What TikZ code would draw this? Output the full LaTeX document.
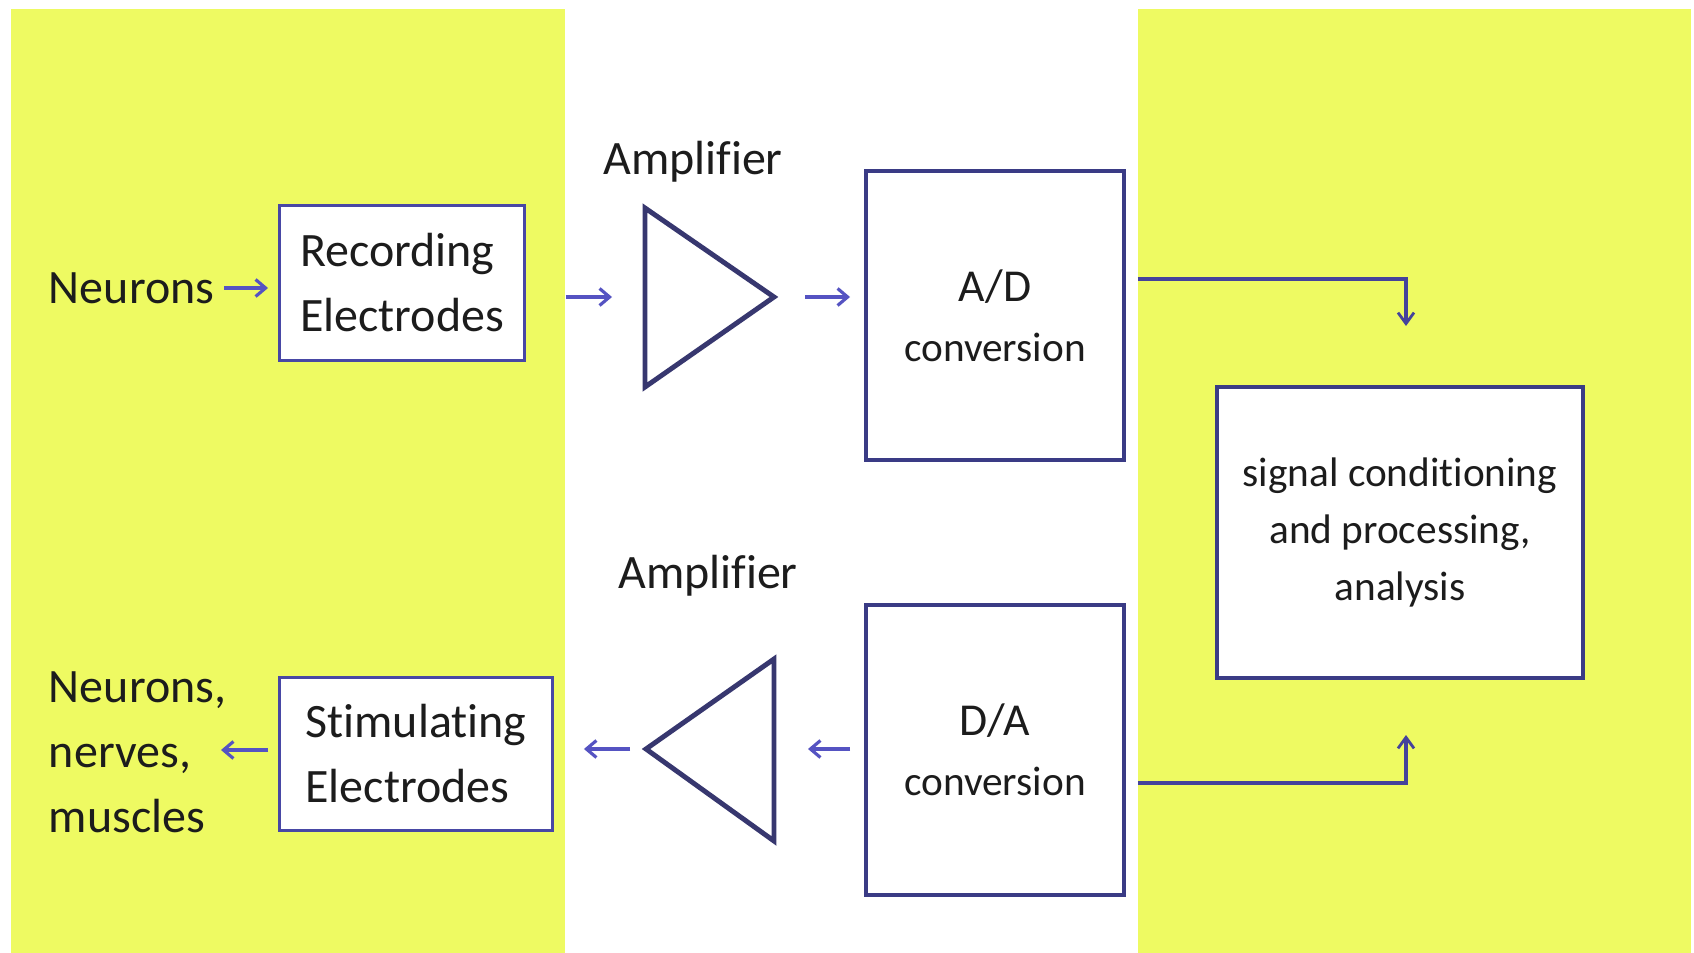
\documentclass[tikz,border=0pt]{standalone}
\usepackage{fontspec}
\setmainfont[Ligatures={NoCommon,NoContextual,NoRare}]{Carlito}
\usetikzlibrary{positioning, arrows.meta}
\definecolor{panelyellow}{HTML}{EEFA62}
\definecolor{boxnavy}{HTML}{3A3B85}
\definecolor{ampnavy}{HTML}{37376F}
\definecolor{linkblue}{HTML}{5553C2}
\definecolor{inktext}{HTML}{1C1C1C}
\newcommand{\fsBig}{\fontsize{27.3}{37}\selectfont}
\newcommand{\fsMid}{\fontsize{23.5}{34}\selectfont}
\newcommand{\fsSig}{\fontsize{23.5}{32.4}\selectfont}
\tikzset{
  panel/.style={fill=panelyellow, draw=none},
  elbox/.style={draw=linkblue!85!black, line width=1.7pt, fill=white, align=left,
    text=inktext, font=\fsBig, inner sep=0pt, outer sep=0pt},
  convbox/.style={draw=boxnavy, line width=2.8pt, fill=white, align=center,
    text=inktext, font=\fsMid, inner sep=0pt, outer sep=0pt},
  amp/.style={draw=ampnavy, line width=2.8pt, line join=miter, fill=white},
  lbl/.style={text=inktext, font=\fsBig, inner sep=0pt, outer sep=0pt},
  arr/.style={draw=linkblue, line width=2.2pt,
    -{Straight Barb[length=0.2cm, width=0.34cm, line width=1.8pt]}},
  link/.style={draw=linkblue!80!black, line width=2.1pt,
    -{Straight Barb[length=0.22cm, width=0.32cm, line width=1.6pt]}}
}
\begin{document}
\begin{tikzpicture}[x=0.02cm, y=-0.02cm]
  \useasboundingbox (0,0) rectangle (1694,953);
  \fill[white] (0,0) rectangle (1694,953);
  % yellow side panels
  \fill[panel] (11,9) rectangle (565,953);
  \fill[panel] (1138,9) rectangle (1691,953);

  % recording chain
  \node[lbl, anchor=west] (neu) at (49,288) {Neurons};
  \node[elbox, minimum width=4.92cm, minimum height=3.12cm] (rec) at (402,283)
      {Recording\\Electrodes};
  \coordinate (a1in) at (645,297);
  \coordinate (a1out) at (774,297);
  \draw[amp] (645,208) -- (a1out) -- (645,387) -- cycle;
  \node[lbl] (a1lbl) at (693,162) {Amplifier};
  \node[convbox, minimum width=5.16cm, minimum height=5.78cm] (ad) at (995,315.5)
      {{\fontsize{26}{30}\selectfont A/D}\\conversion};
  \draw[arr, shorten <=0.2cm, shorten >=0.22cm] (neu.east) -- (neu.east -| rec.west);
  \draw[arr, shorten <=0.82cm, shorten >=0.66cm] (rec.east |- a1in) -- (a1in);
  \draw[arr, shorten <=0.62cm, shorten >=0.32cm] (a1out) -- (a1out -| ad.west);

  % processing
  \node[convbox, line width=2.3pt, font=\fsSig, minimum width=7.32cm, minimum height=5.82cm]
      (sig) at (1400,532.5) {signal conditioning\\and processing,\\analysis};
  \coordinate (sigin) at (1406,326);
  \coordinate (sigout) at (1406,735);
  \draw[link, shorten <=0.28cm] (ad.east |- 0,279) -| (sigin);

  % stimulating chain
  \node[convbox, minimum width=5.16cm, minimum height=5.8cm] (da) at (995,750)
      {{\fontsize{26}{30}\selectfont D/A}\\conversion};
  \draw[link, shorten <=0.28cm] (da.east |- 0,783) -| (sigout);
  \coordinate (a2in) at (774,749);
  \coordinate (a2out) at (646,749);
  \draw[amp] (774,659) -- (a2out) -- (774,841) -- cycle;
  \node[lbl] (a2lbl) at (708,576) {Amplifier};
  \node[elbox, minimum width=5.48cm, minimum height=3.08cm, xshift=-0.1cm] (sti) at (421,754)
      {Stimulating\\Electrodes};
  \node[lbl, anchor=west, align=left] (tgt) at (49,752) {Neurons,\\nerves,\\muscles};
  \coordinate (tgtin) at (221,750);
  \draw[arr, shorten <=0.32cm, shorten >=0.68cm] (da.west |- a2in) -- (a2in);
  \draw[arr, shorten <=0.32cm, shorten >=0.62cm] (a2out) -- (a2out -| sti.east);
  \draw[arr, shorten <=0.22cm] (sti.west |- tgtin) -- (tgtin);
\end{tikzpicture}
\end{document}
